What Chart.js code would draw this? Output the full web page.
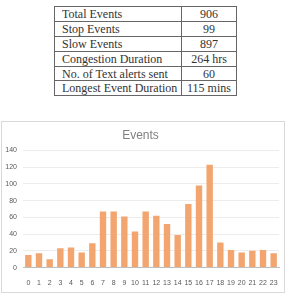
<!DOCTYPE html>
<html>
<head>
<meta charset="utf-8">
<script src="https://cdn.jsdelivr.net/npm/chart.js@4.4.0/dist/chart.umd.min.js"></script>
<style>
  body { margin: 0; width: 290px; height: 299px; background: #fff; position: relative; overflow: hidden; }
  table.stats {
    position: absolute; left: 54px; top: 6px;
    border-collapse: collapse; table-layout: fixed;
    font-family: "Liberation Serif", serif; font-size: 12px; color: #333;
  }
  table.stats td { border: 1px solid #666; height: 13.9px; padding: 0 0 0 7px; line-height: 12px; white-space: nowrap; }
  table.stats td.v { text-align: center; padding: 0; }
  .box { position: absolute; left: 1px; top: 121px; width: 282px; height: 170px; border: 1px solid #d9d9d9; }
</style>
</head>
<body>
<table class="stats">
  <colgroup><col style="width:127px"><col style="width:55px"></colgroup>
  <tbody id="rows"></tbody>
</table>
<div class="box"><canvas id="chart" width="282" height="170"></canvas></div>
<script>
const statNames = ["Total Events", "Stop Events", "Slow Events", "Congestion Duration", "No. of Text alerts sent", "Longest Event Duration"]
const statValues = ["906", "99", "897", "264 hrs", "60", "115 mins"]

const hours = ["0","1","2","3","4","5","6","7","8","9","10","11","12","13","14","15","16","17","18","19","20","21","22","23"]
const events = [15, 17, 10, 23, 24, 18, 29, 67, 67, 61, 43, 67, 62, 52, 39, 76, 98, 123, 30, 21, 18, 20, 21, 17]

let rows = ""
for (let i = 0; i < statNames.length; i++) {
    rows += `<tr><td>${statNames[i]}</td><td class="v">${statValues[i]}</td></tr>`
}
document.querySelector("#rows").innerHTML = rows

new Chart(document.getElementById("chart"), {
    type: 'bar',
    data: {
        labels: hours,
        datasets: [
            {
                data: events,
                backgroundColor: '#F2A56E',
                barPercentage: 0.6,
                categoryPercentage: 1
            }
        ]
    },
    options: {
        responsive: false,
        animation: false,
        layout: { padding: { left: 0, right: 5, top: 0, bottom: 2 } },
        plugins: {
            legend: { display: false },
            tooltip: { enabled: false },
            title: {
                display: true,
                text: 'Events',
                color: '#808080',
                font: { family: 'Liberation Sans', size: 12, weight: 'normal' },
                padding: { top: 6, bottom: 8 }
            }
        },
        scales: {
            x: {
                grid: { display: false },
                border: { color: '#bfbfbf' },
                ticks: { color: '#595959', font: { family: 'Liberation Sans', size: 7 }, padding: 3, maxRotation: 0, autoSkip: false }
            },
            y: {
                min: 0,
                max: 140,
                grid: { color: '#ececec', drawTicks: false },
                border: { display: false },
                ticks: { stepSize: 20, color: '#595959', font: { family: 'Liberation Sans', size: 7 }, padding: 6 },
                afterFit: function (scale) { scale.width = 21 }
            }
        }
    }
})
</script>
</body>
</html>
